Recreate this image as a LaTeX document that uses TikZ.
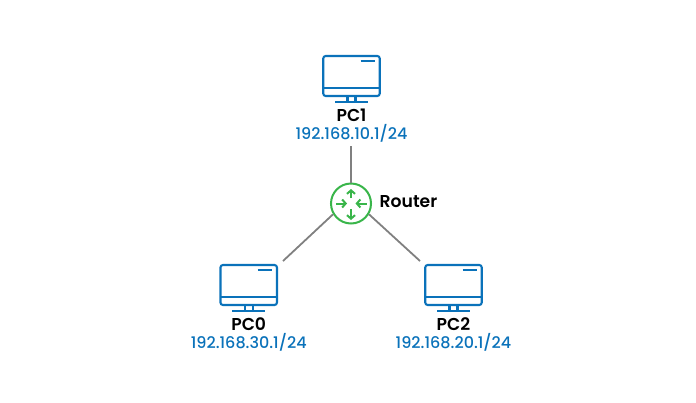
\documentclass[tikz,border=0pt]{standalone}
\usepackage{fontspec}
\setmainfont{Poppins}
\newfontfamily\namefont{Poppins SemiBold}
\newfontfamily\addrfont{Poppins Medium}
\usetikzlibrary{arrows.meta}
\definecolor{pcblue}{HTML}{0A72BA}
\definecolor{routergreen}{HTML}{39B54A}
\definecolor{linkgray}{HTML}{808080}

\tikzset{
    monitor/.style={draw=pcblue, line width=2.1pt, rounded corners=2.5pt, minimum width=56.5pt, minimum height=40pt, inner sep=0pt},
    pcpart/.style={draw=pcblue, line width=2.1pt},
    pcname/.style={inner sep=0pt, font=\fontsize{17.2}{20}\selectfont\namefont},
    pcaddr/.style={inner sep=0pt, text=pcblue, font=\fontsize{16}{20}\selectfont\addrfont},
    link/.style={draw=linkgray, line width=1.8pt},
    routerarrow/.style={draw=routergreen, line width=2pt, -{Straight Barb[length=3.5pt,width=8pt]}},
    pics/pcdetail/.style={code={
        \draw [pcpart] (-28.25,12) -- (28.25,12);
        \draw [pcpart, line width=1.9pt] (9,-15) -- (23.5,-15);
        \draw [pcpart] (-4,20.5) -- (-4,26);
        \draw [pcpart] (4,20.5) -- (4,26);
        \draw [pcpart] (-16.5,26) -- (16.5,26);
    }}
}

\begin{document}
\begin{tikzpicture}[x=1pt, y=-1pt]
    \useasboundingbox (0,0) rectangle (696,402);

    % router
    \node(router) [circle, draw=routergreen, line width=2pt, minimum size=40pt, inner sep=0pt] at (351,203.5) {};
    \node(routername) [pcname, anchor=west] at (379.5,201.5) {Router};
    \draw [routerarrow] (351,198) -- (351,189);
    \draw [routerarrow] (351,209) -- (351,220);
    \draw [routerarrow] (336,203.5) -- (347,203.5);
    \draw [routerarrow] (366.5,203.5) -- (355.5,203.5);

    % pc1
    \node(pc1) [monitor] at (351.5,76) {};
    \pic at (pc1) {pcdetail};
    \node(pc1name) [pcname] at (351.5,115.5) {PC1};
    \node(pc1addr) [pcaddr] at (351.5,133) {192.168.10.1/24};

    % pc0
    \node(pc0) [monitor] at (248.7,285) {};
    \pic at (pc0) {pcdetail};
    \node(pc0name) [pcname] at (248.7,324.5) {PC0};
    \node(pc0addr) [pcaddr] at (248.7,342) {192.168.30.1/24};

    % pc2
    \node(pc2) [monitor] at (453.5,285) {};
    \pic at (pc2) {pcdetail};
    \node(pc2name) [pcname] at (453.5,324.5) {PC2};
    \node(pc2addr) [pcaddr] at (453.5,342) {192.168.20.1/24};

    % links
    \coordinate(pc1end) at (351,146);
    \coordinate(pc0end) at (283,261);
    \coordinate(pc2end) at (420,261);
    \draw [link] (pc1end) -- (router.north);
    \draw [link] (pc0end) -- (router.211);
    \draw [link] (pc2end) -- (router.-31);
\end{tikzpicture}
\end{document}
